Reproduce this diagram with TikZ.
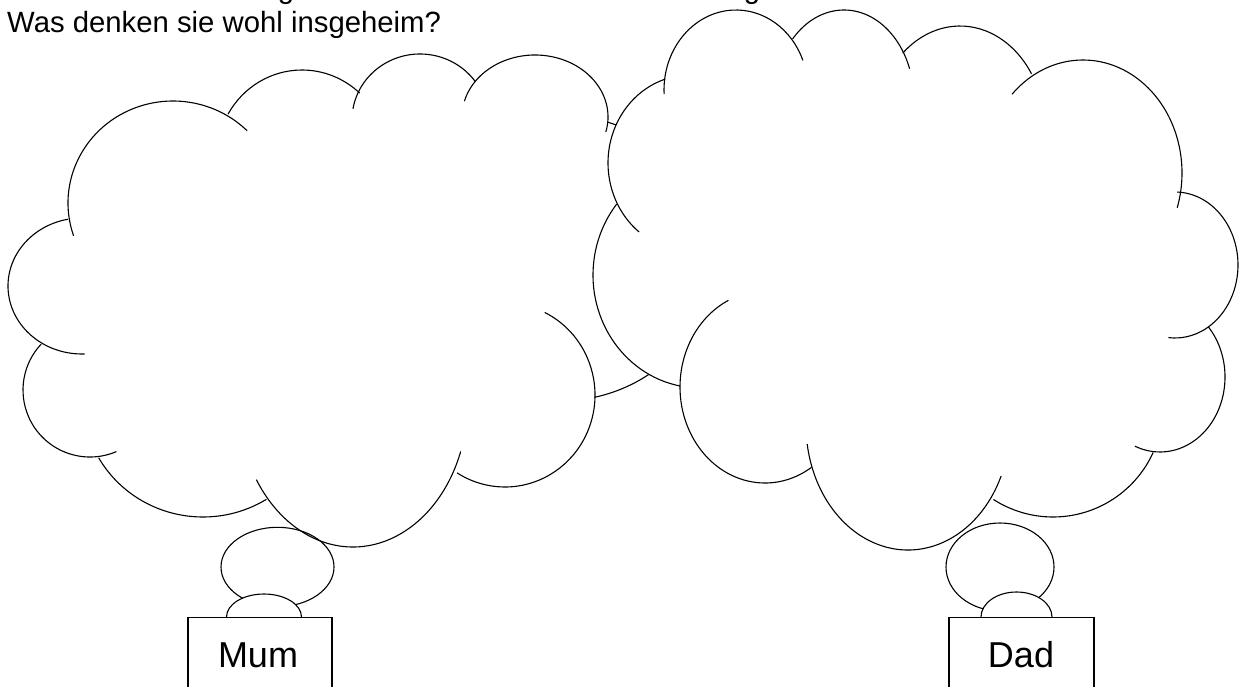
\documentclass[tikz,border=0pt]{standalone}
\usepackage{fontspec}
\setmainfont{Liberation Sans}
\usetikzlibrary{shapes.geometric}
\tikzset{
  cl/.style={draw=black, line width=1.1pt},
  bub/.style={ellipse, draw=black, line width=1.1pt, inner sep=0pt},
  namebox/.style={draw=black, line width=1.1pt, fill=white, minimum height=100pt, anchor=north, inner sep=0pt},
  bigtxt/.style={anchor=base, inner sep=0pt, font=\fontsize{36}{40}\selectfont},
  ttxt/.style={inner sep=0pt, font=\fontsize{29.3}{34}\selectfont}
}
\newcommand\carc[6]{\draw[cl] (#1,-#2) ++(#5:#3 and #4) arc[start angle=#5,end angle=#6,x radius=#3,y radius=#4];}
\newcommand\cfill[4]{\fill[white] (#1,-#2) ellipse[x radius=#3,y radius=#4];}
\begin{document}
\begin{tikzpicture}[x=1pt,y=1pt]
\useasboundingbox (0,0) rectangle (1244,-687);
\fill[white] (0,0) rectangle (1244,-687);
% cut-off line above
\node[ttxt, anchor=base] (gone) at (286,1) {g};
\node[ttxt, anchor=base] (gtwo) at (752,1) {g};
% title
\node[ttxt, anchor=base west] (title) at (7,-33) {Was denken sie wohl insgeheim?};
% left cloud
\carc{173}{203}{105}{102}{198.8}{45.1}
\carc{302}{157}{85}{87}{150.4}{47.2}
\carc{420}{120}{68}{66}{170.2}{35.4}
\carc{535}{117}{73}{62}{165.2}{-14}
\carc{560}{258}{153}{143}{72}{-77}
\carc{505}{395}{90}{92}{63.8}{-122.2}
\carc{353}{400}{115}{147}{-20.5}{-147.2}
\carc{203}{400}{120}{117}{-58.1}{-150.4}
\carc{90}{390}{67}{67}{-66.8}{-223.2}
\carc{82}{286}{74}{68}{100.9}{272}
% right cloud fill
\cfill{736}{90}{72}{80}
\cfill{844}{100}{70}{90}
\cfill{960}{130}{85}{104}
\cfill{1083}{173}{99}{113}
\cfill{1175}{265}{63}{73}
\cfill{1160}{377}{65}{75}
\cfill{1053}{407}{110}{110}
\cfill{908}{425}{102}{125}
\cfill{765}{387}{85}{96}
\cfill{700}{275}{107}{113}
\cfill{690}{163}{82}{88}
\fill[white] (700,-120) rectangle (1100,-420);
% right cloud outline
\carc{736}{90}{72}{80}{182.9}{21.7}
\carc{844}{100}{70}{90}{137.2}{20.3}
\carc{960}{130}{85}{104}{132.3}{32.7}
\carc{1083}{173}{99}{113}{135.8}{-17.9}
\carc{1175}{265}{63}{73}{88}{-96}
\carc{1160}{377}{65}{75}{42.1}{-112.7}
\carc{1053}{407}{110}{110}{-24.4}{-122.8}
\carc{908}{425}{102}{125}{-24.1}{-171.2}
\carc{765}{387}{85}{96}{-56.8}{-244.5}
\carc{700}{275}{107}{113}{-100.8}{-218.8}
\carc{690}{163}{82}{88}{-128.4}{-252.3}
% Mum
\node[bub, minimum width=113pt, minimum height=79.4pt] (mumthought) at (277.5,-567) {};
\node[bub, fill=white, minimum width=75pt, minimum height=46pt] (mumhead) at (264,-617) {};
\node[namebox, minimum width=144pt] (mumbox) at (260,-617) {};
\node[bigtxt] (mumname) at (258,-667) {Mum};
% Dad
\node[bub, minimum width=108pt, minimum height=88pt] (dadthought) at (1000,-567) {};
\node[bub, fill=white, minimum width=71pt, minimum height=50pt] (dadhead) at (1016.5,-617) {};
\node[namebox, minimum width=145pt] (dadbox) at (1021.5,-617) {};
\node[bigtxt] (dadname) at (1021,-667) {Dad};
\end{tikzpicture}
\end{document}
